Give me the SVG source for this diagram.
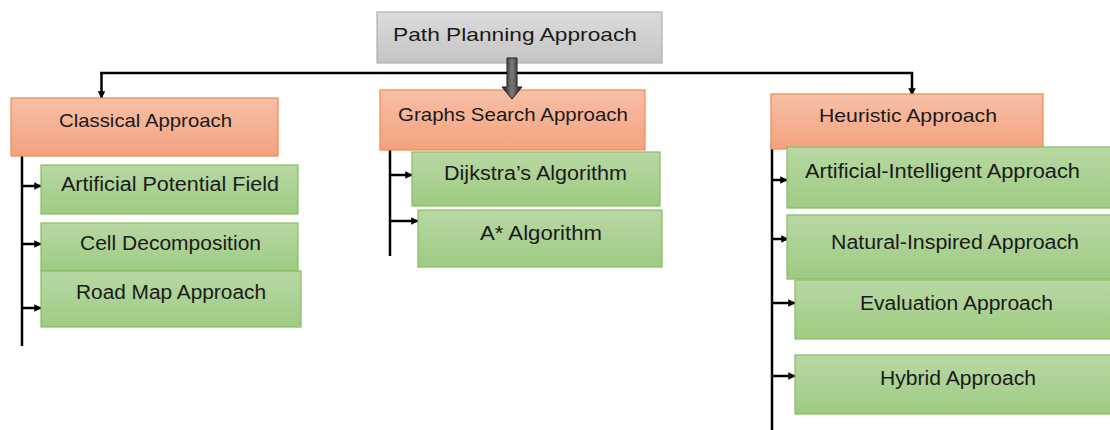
<svg xmlns="http://www.w3.org/2000/svg" width="1110" height="430" viewBox="0 0 1110 430">
<defs>
<linearGradient id="gGray" x1="0" y1="0" x2="0" y2="1"><stop offset="0" stop-color="#dcdcdc"/><stop offset="1" stop-color="#c4c4c4"/></linearGradient>
<linearGradient id="gOr" x1="0" y1="0" x2="0" y2="1"><stop offset="0" stop-color="#f7c0a6"/><stop offset="1" stop-color="#f4a27f"/></linearGradient>
<linearGradient id="gGr" x1="0" y1="0" x2="0" y2="1"><stop offset="0" stop-color="#b8d8a4"/><stop offset="1" stop-color="#9ecb82"/></linearGradient>
<linearGradient id="gArr" x1="0" y1="0" x2="1" y2="0"><stop offset="0" stop-color="#1e1e1e"/><stop offset="0.5" stop-color="#7a7a7a"/><stop offset="1" stop-color="#1e1e1e"/></linearGradient>
<marker id="ah" viewBox="0 0 10 10" refX="9" refY="5" markerWidth="3" markerHeight="3" orient="auto"><path d="M0,0 L10,5 L0,10 z" fill="#000"/></marker>
</defs>
<style>
.t{font-family:"Liberation Sans",Arial,sans-serif;font-size:19px;fill:#1a1a1a;text-anchor:middle}
.tg{font-size:20px}
.gray{fill:url(#gGray);stroke:#b0b0b0;stroke-width:1.2}
.or{fill:url(#gOr);stroke:#ef8a4f;stroke-width:1.2}
.gr{fill:url(#gGr);stroke:#86bd62;stroke-width:1.2}
.ln{stroke:#000;stroke-width:2.5;fill:none}
.ar{stroke:#000;stroke-width:2.5;fill:none;marker-end:url(#ah)}
</style>
<rect width="1110" height="430" fill="#fff"/>
<g id="connectors">
<path class="ln" d="M100,73 H913"/>
<path class="ar" d="M101.5,72 V98"/>
<path class="ar" d="M912,72 V95"/>
<path class="ln" d="M22,150 V346"/>
<path class="ar" d="M22,186 H41"/>
<path class="ar" d="M22,244 H41"/>
<path class="ar" d="M22,308 H41"/>
<path class="ln" d="M390,145 V256"/>
<path class="ar" d="M390,175 H412"/>
<path class="ar" d="M390,221 H418"/>
<path class="ln" d="M772,143 V430"/>
<path class="ar" d="M772,180 H787"/>
<path class="ar" d="M772,239 H788"/>
<path class="ar" d="M772,303 H795"/>
<path class="ar" d="M772,376 H795"/>
</g>
<g id="root"><rect class="gray" x="377" y="12" width="285" height="51"/><text class="t" x="515" y="41" font-size="20" textLength="244" lengthAdjust="spacingAndGlyphs">Path Planning Approach</text></g>
<g id="classical"><rect class="or" x="11" y="98" width="267" height="58"/><text class="t" x="145.5" y="127" textLength="173" lengthAdjust="spacingAndGlyphs">Classical Approach</text></g>
<g id="graphs"><rect class="or" x="380" y="90" width="265" height="60"/><text class="t" x="513" y="121" textLength="230" lengthAdjust="spacingAndGlyphs">Graphs Search Approach</text></g>
<g id="heuristic"><rect class="or" x="771" y="94" width="272" height="55"/><text class="t" x="908" y="122" textLength="178" lengthAdjust="spacingAndGlyphs">Heuristic Approach</text></g>
<g id="apf"><rect class="gr" x="41" y="165" width="257" height="49"/><text class="t tg" x="170" y="191" textLength="218" lengthAdjust="spacingAndGlyphs">Artificial Potential Field</text></g>
<g id="cell"><rect class="gr" x="41" y="223" width="257" height="48"/><text class="t tg" x="170.5" y="250" textLength="181" lengthAdjust="spacingAndGlyphs">Cell Decomposition</text></g>
<g id="road"><rect class="gr" x="41" y="271" width="260" height="56"/><text class="t tg" x="171" y="299" textLength="190" lengthAdjust="spacingAndGlyphs">Road Map Approach</text></g>
<g id="dijkstra"><rect class="gr" x="412" y="152" width="248" height="54"/><text class="t tg" x="535.5" y="180" textLength="183" lengthAdjust="spacingAndGlyphs">Dijkstra’s Algorithm</text></g>
<g id="astar"><rect class="gr" x="418" y="210" width="244" height="57"/><text class="t tg" x="541" y="240" textLength="122" lengthAdjust="spacingAndGlyphs">A* Algorithm</text></g>
<g id="ai"><rect class="gr" x="787" y="147" width="330" height="61"/><text class="t tg" x="942.5" y="178" textLength="275" lengthAdjust="spacingAndGlyphs">Artificial-Intelligent Approach</text></g>
<g id="ni"><rect class="gr" x="787" y="215" width="330" height="64"/><text class="t tg" x="955" y="249" textLength="248" lengthAdjust="spacingAndGlyphs">Natural-Inspired Approach</text></g>
<g id="eval"><rect class="gr" x="795" y="280" width="322" height="59"/><text class="t tg" x="956.5" y="310" textLength="193" lengthAdjust="spacingAndGlyphs">Evaluation Approach</text></g>
<g id="hybrid"><rect class="gr" x="795" y="355" width="322" height="59"/><text class="t tg" x="958" y="385" textLength="156" lengthAdjust="spacingAndGlyphs">Hybrid Approach</text></g>
<g id="root-arrow"><path d="M507,58 H517 V87 H522 L512,99 L502,87 H507 Z" fill="url(#gArr)" stroke="#1e1e1e" stroke-width="1"/></g>
</svg>
